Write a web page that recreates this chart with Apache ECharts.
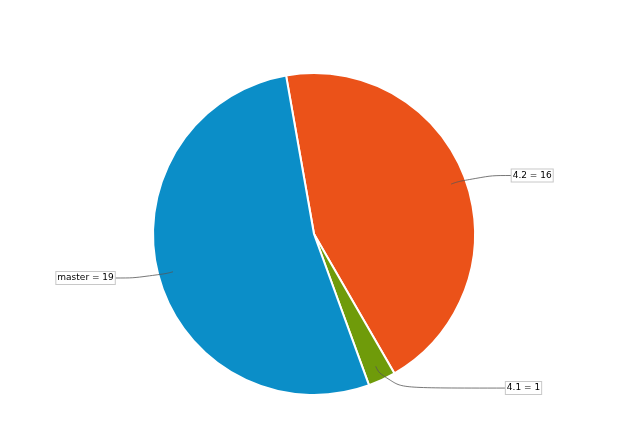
<!DOCTYPE html>
<html>
<head>
<meta charset="utf-8">
<script src="https://cdn.jsdelivr.net/npm/echarts@6/dist/echarts.min.js"></script>
<style>html,body{margin:0;padding:0;background:#fff;}#c{width:623px;height:444px;}</style>
</head>
<body>
<div id="c"></div>
<script>
var categories = ['4.2', '4.1', 'master'];
var values = [16, 1, 19];
var colors = ['#EB5219', '#6F9B0A', '#0B8EC8'];
var lineLen = [25, 24, 24];
var lineLen2 = [37, 120, 35];

var chart = echarts.init(document.getElementById('c'));
var visData = categories.map(function (n, i) {
  return { name: n, value: values[i], itemStyle: { color: colors[i] } };
});
var labData = categories.map(function (n, i) {
  return { name: n, value: values[i], labelLine: { length: lineLen[i], length2: lineLen2[i] } };
});
chart.setOption({
  animation: false,
  series: [
    {
      type: 'pie',
      z: 1,
      center: [314, 234],
      radius: 161,
      startAngle: 100,
      clockwise: true,
      silent: true,
      label: { show: false },
      labelLine: { show: false },
      itemStyle: { borderColor: '#fff', borderWidth: 2 },
      data: visData
    },
    {
      type: 'pie',
      z: 10,
      center: [314, 234],
      radius: 146,
      startAngle: 100,
      clockwise: true,
      silent: true,
      avoidLabelOverlap: false,
      itemStyle: { color: 'rgba(0,0,0,0)' },
      label: {
        show: true,
        formatter: '{b} = {c}',
        fontFamily: 'DejaVu Sans',
        fontSize: 9,
        color: '#000',
        backgroundColor: '#fff',
        borderColor: '#c8c8c8',
        borderWidth: 1,
        padding: [2, 1, 1, 1],
        distanceToLabelLine: 0
      },
      labelLine: {
        show: true,
        smooth: 0.7,
        lineStyle: { color: '#555', width: 0.8 }
      },
      data: labData
    }
  ]
});
</script>
</body>
</html>
